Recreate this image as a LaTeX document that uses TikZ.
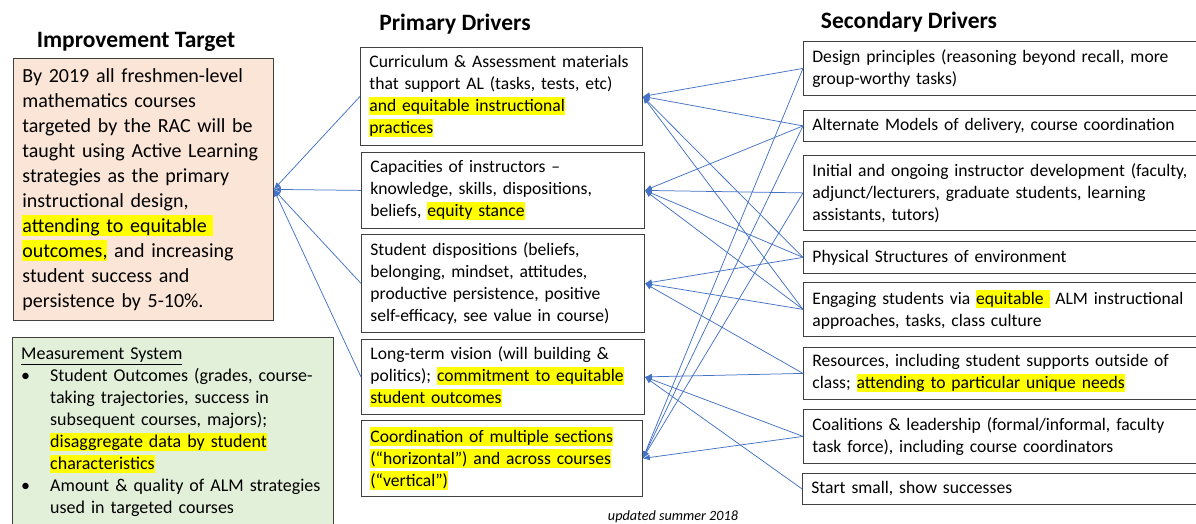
\documentclass[tikz,border=0pt]{standalone}
\usepackage{fontspec}
\setmainfont{Carlito}
\usepackage{xcolor}
\usetikzlibrary{arrows.meta}

\definecolor{linkblue}{HTML}{4472C4}
\definecolor{peach}{HTML}{FBE5D6}
\definecolor{palegreen}{HTML}{E2F0D9}
\definecolor{hlyellow}{HTML}{FFFF00}
\definecolor{boxline}{HTML}{404040}

\newcommand{\hl}[1]{{\setlength{\fboxsep}{0pt}\colorbox{hlyellow}{\rule[-0.15\baselineskip]{0pt}{0.83\baselineskip}#1}}}

\tikzset{
  heading/.style={font=\bfseries\fontsize{23.5}{28}\selectfont, anchor=base},
  drvbox/.style={draw=boxline, line width=0.8pt, fill=white, align=left,
    anchor=north west, inner xsep=9pt, inner ysep=0pt,
    font=\fontsize{17.6}{22}\selectfont},
  pdrv/.style={drvbox, text width=265pt},
  sdrv/.style={drvbox, text width=410pt},
  link/.style={draw=linkblue, line width=0.75pt, -{Latex[length=7pt,width=6pt]}},
}

\begin{document}
\begin{tikzpicture}[x=1pt, y=-1pt]
\useasboundingbox (0,0) rectangle (1196,523);
\clip (0,0) rectangle (1196,523);
\begin{scope}
    % Column headings
    \node[heading] (tgthead) at (136,47) {Improvement Target};
    \node[heading] (prihead) at (455,30) {Primary Drivers};
    \node[heading] (sechead) at (909,28) {Secondary Drivers};

    % Improvement target
    \node[drvbox, fill=peach, text width=242pt, minimum height=262pt,
      font=\fontsize{20}{25}\selectfont] (target) at (13,58) {By 2019 all freshmen-level\\
      mathematics courses\\
      targeted by the RAC will be\\
      taught using Active Learning\\
      strategies as the primary\\
      instructional design,\\
      \hl{attending to equitable\ }\\
      \hl{outcomes,} and increasing\\
      student success and\\
      persistence by 5-10\%.};

    % Measurement system
    \node[drvbox, fill=palegreen, minimum width=321pt, minimum height=200pt] (meas) at (12,337) {};
    \node[anchor=north west, align=left, inner sep=0pt, text width=305pt,
      font=\fontsize{18}{22}\selectfont] (meastext) at (21,348) {\underline{Measurement System}\\
      \makebox[29pt][l]{\textbullet}Student Outcomes (grades, course-\\
      \hspace*{29pt}taking trajectories, success in\\
      \hspace*{29pt}subsequent courses, majors);\\
      \hspace*{29pt}\hl{disaggregate data by student}\\
      \hspace*{29pt}\hl{characteristics}\\
      \makebox[29pt][l]{\textbullet}Amount \& quality of ALM strategies\\
      \hspace*{29pt}used in targeted courses};

    % Primary drivers
    \node[pdrv, text width=264pt, minimum height=98pt] (p1) at (360,47) {Curriculum \& Assessment materials\\
      that support AL (tasks, tests, etc)\\
      \hl{and equitable instructional}\\
      \hl{practices}};
    \node[pdrv, minimum height=76pt] (p2) at (361,152) {Capacities of instructors --\\
      knowledge, skills, dispositions,\\
      beliefs, \hl{equity stance}};
    \node[pdrv, minimum height=98pt] (p3) at (361,234) {Student dispositions (beliefs,\\
      belonging, mindset, attitudes,\\
      productive persistence, positive\\
      self-efficacy, see value in course)};
    \node[pdrv, minimum height=75pt] (p4) at (361,339) {Long-term vision (will building \&\\
      politics); \hl{commitment to equitable}\\
      \hl{student outcomes}};
    \node[pdrv, text width=263pt, minimum height=76pt] (p5) at (361,420) {\hl{Coordination of multiple sections}\\
      \hl{(“horizontal”) and across courses}\\
      \hl{(“vertical”)}};

    % Secondary drivers
    \node[sdrv, minimum height=54pt] (s1) at (803,41) {Design principles (reasoning beyond recall, more\\
      group-worthy tasks)};
    \node[sdrv, minimum height=31pt] (s2) at (803,110) {Alternate Models of delivery, course coordination};
    \node[sdrv, minimum height=75pt] (s3) at (803,155) {Initial and ongoing instructor development (faculty,\\
      adjunct/lecturers, graduate students, learning\\
      assistants, tutors)};
    \node[sdrv, minimum height=32pt] (s4) at (803,241) {Physical Structures of environment};
    \node[sdrv, minimum height=54pt] (s5) at (803,282) {Engaging students via \hl{equitable\ } ALM instructional\\
      approaches, tasks, class culture};
    \node[sdrv, minimum height=52pt] (s6) at (803,347) {Resources, including student supports outside of\\
      class; \hl{attending to particular unique needs}};
    \node[sdrv, minimum height=54pt] (s7) at (803,409) {Coalitions \& leadership (formal/informal, faculty\\
      task force), including course coordinators};
    \node[sdrv, minimum height=31pt] (s8) at (802,473) {Start small, show successes};

    \node[font=\itshape\fontsize{14.2}{16}\selectfont] (updnote) at (673,517) {updated summer 2018};

    % Primary drivers feed the target
    \draw[link] (p1.west) -- (target.east);
    \draw[link] (p2.west) -- (target.east);
    \draw[link] (p3.west) -- (target.east);
    \draw[link] (p4.west) -- (target.east);

    % Secondary drivers feed the primary ones
    \draw[link] (s1.west) -- (p1.east);
    \draw[link] (s2.west) -- (p1.east);
    \draw[link] (s4.west) -- (p1.east);
    \draw[link] (s5.west) -- (p1.east);
    \draw[link] (s2.west) -- (p2.east);
    \draw[link] (s3.west) -- (p2.east);
    \draw[link] (s4.west) -- (p2.east);
    \draw[link] (s5.west) -- (p2.east);
    \draw[link] (s4.west) -- (p3.east);
    \draw[link] (s5.west) -- (p3.east);
    \draw[link] (s6.west) -- (p3.east);
    \draw[link] (s6.west) -- (p4.east);
    \draw[link] (s7.west) -- (p4.east);
    \draw[link] (s8.west) -- (p4.east);
    \draw[link] (s1.west) -- (p5.east);
    \draw[link] (s2.west) -- (p5.east);
    \draw[link] (s3.west) -- (p5.east);
    \draw[link] (s7.west) -- (p5.east);
\end{scope}
\end{tikzpicture}
\end{document}
